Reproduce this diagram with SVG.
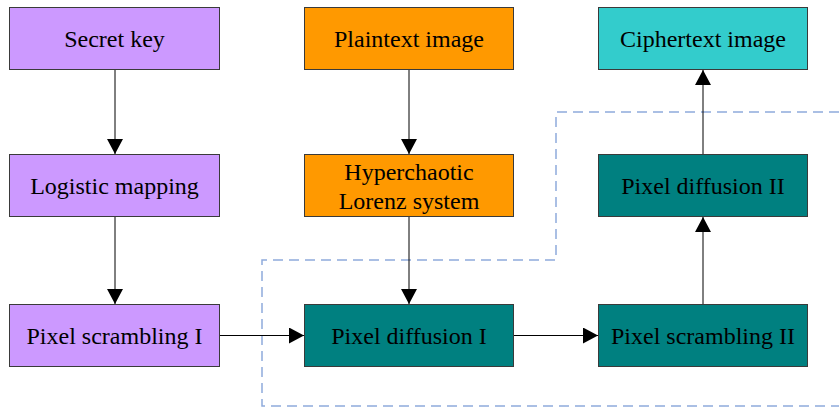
<svg xmlns="http://www.w3.org/2000/svg" width="839" height="407" viewBox="0 0 839 407">
<style>
  .box { stroke: #3a3a3a; stroke-width: 1; }
  .purple { fill: #cc99ff; }
  .orange { fill: #ff9900; }
  .cyan { fill: #33cccc; }
  .teal { fill: #008080; }
  text { font-family: "Liberation Serif", "Times New Roman", serif; font-size: 24px; fill: #000; text-anchor: middle; }
  .conn { stroke: #000; stroke-width: 1; fill: none; }
  .dash { stroke: #8faadc; stroke-width: 1.5; fill: none; stroke-dasharray: 10 6; }
</style>
<defs>
  <marker id="arrow" markerUnits="userSpaceOnUse" markerWidth="15" markerHeight="16" refX="15" refY="8" orient="auto">
    <path d="M0,0 L15,8 L0,16 Z" fill="#000"/>
  </marker>
</defs>
<g id="boundary">
  <path class="dash" d="M839,112 H556 V260 H262 V406 H839"/>
</g>
<g id="connectors">
  <line class="conn" x1="115" y1="70" x2="115" y2="154" marker-end="url(#arrow)"/>
  <line class="conn" x1="115" y1="217" x2="115" y2="304" marker-end="url(#arrow)"/>
  <line class="conn" x1="409" y1="70" x2="409" y2="154" marker-end="url(#arrow)"/>
  <line class="conn" x1="409" y1="217" x2="409" y2="304" marker-end="url(#arrow)"/>
  <line class="conn" x1="220" y1="335.5" x2="304" y2="335.5" marker-end="url(#arrow)"/>
  <line class="conn" x1="514" y1="335.5" x2="598" y2="335.5" marker-end="url(#arrow)"/>
  <line class="conn" x1="703" y1="304" x2="703" y2="217" marker-end="url(#arrow)"/>
  <line class="conn" x1="703" y1="154" x2="703" y2="70" marker-end="url(#arrow)"/>
</g>
<g id="secret-key">
  <rect class="box purple" x="9.5" y="7.5" width="210" height="62"/>
  <text x="114.5" y="46.5">Secret key</text>
</g>
<g id="logistic-mapping">
  <rect class="box purple" x="9.5" y="154.5" width="210" height="62"/>
  <text x="114.5" y="193.5">Logistic mapping</text>
</g>
<g id="pixel-scrambling-1">
  <rect class="box purple" x="9.5" y="304.5" width="210" height="62"/>
  <text x="114.5" y="343.5">Pixel scrambling I</text>
</g>
<g id="plaintext-image">
  <rect class="box orange" x="304.5" y="7.5" width="209" height="62"/>
  <text x="409" y="46.5">Plaintext image</text>
</g>
<g id="hyperchaotic-lorenz">
  <rect class="box orange" x="304.5" y="154.5" width="209" height="62"/>
  <text x="409" y="179.5">Hyperchaotic</text>
  <text x="409" y="209">Lorenz system</text>
</g>
<g id="pixel-diffusion-1">
  <rect class="box teal" x="304.5" y="304.5" width="209" height="62"/>
  <text x="409" y="343.5">Pixel diffusion I</text>
</g>
<g id="ciphertext-image">
  <rect class="box cyan" x="598.5" y="7.5" width="209" height="62"/>
  <text x="703" y="46.5">Ciphertext image</text>
</g>
<g id="pixel-diffusion-2">
  <rect class="box teal" x="598.5" y="154.5" width="209" height="62"/>
  <text x="703" y="193.5">Pixel diffusion II</text>
</g>
<g id="pixel-scrambling-2">
  <rect class="box teal" x="598.5" y="304.5" width="209" height="62"/>
  <text x="703" y="343.5">Pixel scrambling II</text>
</g>
</svg>
